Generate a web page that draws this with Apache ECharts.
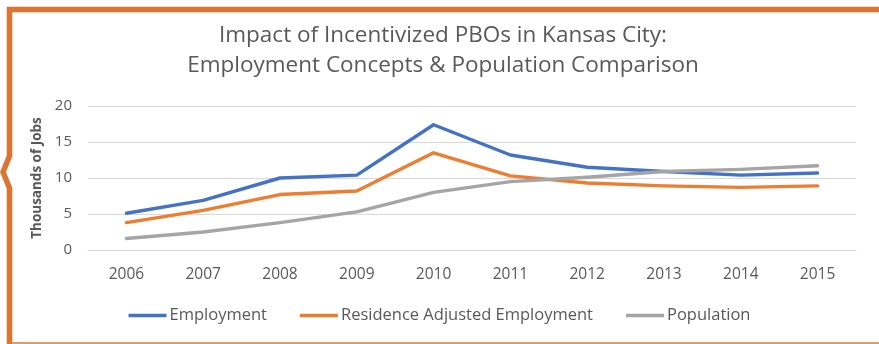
<!DOCTYPE html>
<html>
<head>
<meta charset="utf-8">
<script src="https://cdn.jsdelivr.net/npm/echarts@6/dist/echarts.min.js"></script>
<style>
  html, body { margin: 0; padding: 0; background: #ffffff; }
  #chart { width: 879px; height: 344px; }
</style>
</head>
<body>
<div id="chart"></div>
<script>
// Kansas City PBO impact, thousands of jobs / residents by year
const years = ['2006', '2007', '2008', '2009', '2010', '2011', '2012', '2013', '2014', '2015'];
const employment = [5.1, 6.9, 10.0, 10.4, 17.4, 13.2, 11.5, 10.9, 10.4, 10.7];
const residenceAdjusted = [3.8, 5.5, 7.7, 8.2, 13.5, 10.3, 9.3, 8.9, 8.7, 8.9];
const population = [1.6, 2.5, 3.8, 5.3, 8.0, 9.5, 10.1, 10.9, 11.2, 11.7];

const FONT = '"Open Sans", "Liberation Sans", sans-serif';
const TEXT = '#595959';
const FRAME = '#DE7431';

const chart = echarts.init(document.getElementById('chart'), null, { renderer: 'canvas' });

function lineSeries(name, data, color) {
  return {
    name: name,
    type: 'line',
    data: data,
    symbol: 'none',
    lineStyle: { width: 3.4, color: color, cap: 'round', join: 'round' },
    itemStyle: { color: color },
    z: 3
  };
}

chart.setOption({
  backgroundColor: '#ffffff',
  animation: false,
  title: {
    text: 'Impact of Incentivized PBOs in Kansas City:\nEmployment Concepts & Population Comparison',
    left: 438,
    top: 16,
    textAlign: 'center',
    textStyle: {
      fontFamily: FONT,
      fontWeight: 'normal',
      fontSize: 22.5,
      lineHeight: 30,
      color: TEXT
    }
  },
  legend: {
    bottom: 15,
    left: 'center',
    itemWidth: 38,
    itemHeight: 3.5,
    itemGap: 33,
    icon: 'rect',
    textStyle: { fontFamily: FONT, fontSize: 16.5, color: TEXT, padding: [0, 0, 0, -2] },
    data: ['Employment', 'Residence Adjusted Employment', 'Population']
  },
  grid: { left: 88, right: 23, top: 106, bottom: 94, containLabel: false },
  xAxis: {
    type: 'category',
    data: years,
    boundaryGap: true,
    axisLine: { show: true, lineStyle: { color: '#d9d9d9', width: 1 } },
    axisTick: { show: false },
    axisLabel: { fontFamily: FONT, fontSize: 15.5, color: TEXT, margin: 17 }
  },
  yAxis: {
    type: 'value',
    min: 0,
    max: 20,
    interval: 5,
    name: 'Thousands of Jobs',
    nameLocation: 'middle',
    nameGap: 34,
    nameRotate: 90,
    nameTextStyle: { fontFamily: FONT, fontSize: 13.5, color: TEXT, fontWeight: 'bold' },
    axisLine: { show: false },
    axisTick: { show: false },
    axisLabel: { fontFamily: FONT, fontSize: 15, color: TEXT, margin: 16 },
    splitLine: { lineStyle: { color: '#d9d9d9', width: 1 } }
  },
  series: [
    lineSeries('Employment', employment, '#4472C4'),
    lineSeries('Residence Adjusted Employment', residenceAdjusted, '#ED7D31'),
    lineSeries('Population', population, '#A5A5A5')
  ],
  graphic: [
    {
      // orange frame: top rule and left rule with a pointer notch
      type: 'polyline',
      silent: true,
      shape: { points: [[879, 9.5], [9.5, 9.5], [9.5, 156], [3, 172], [9.5, 188], [9.5, 344]] },
      style: { stroke: FRAME, lineWidth: 5.5, fill: null, lineJoin: 'miter' },
      z: 10
    },
    {
      type: 'line',
      silent: true,
      shape: { x1: 12, y1: 343, x2: 879, y2: 343 },
      style: { stroke: '#E59A66', lineWidth: 2 },
      z: 10
    }
  ]
});
</script>
</body>
</html>
